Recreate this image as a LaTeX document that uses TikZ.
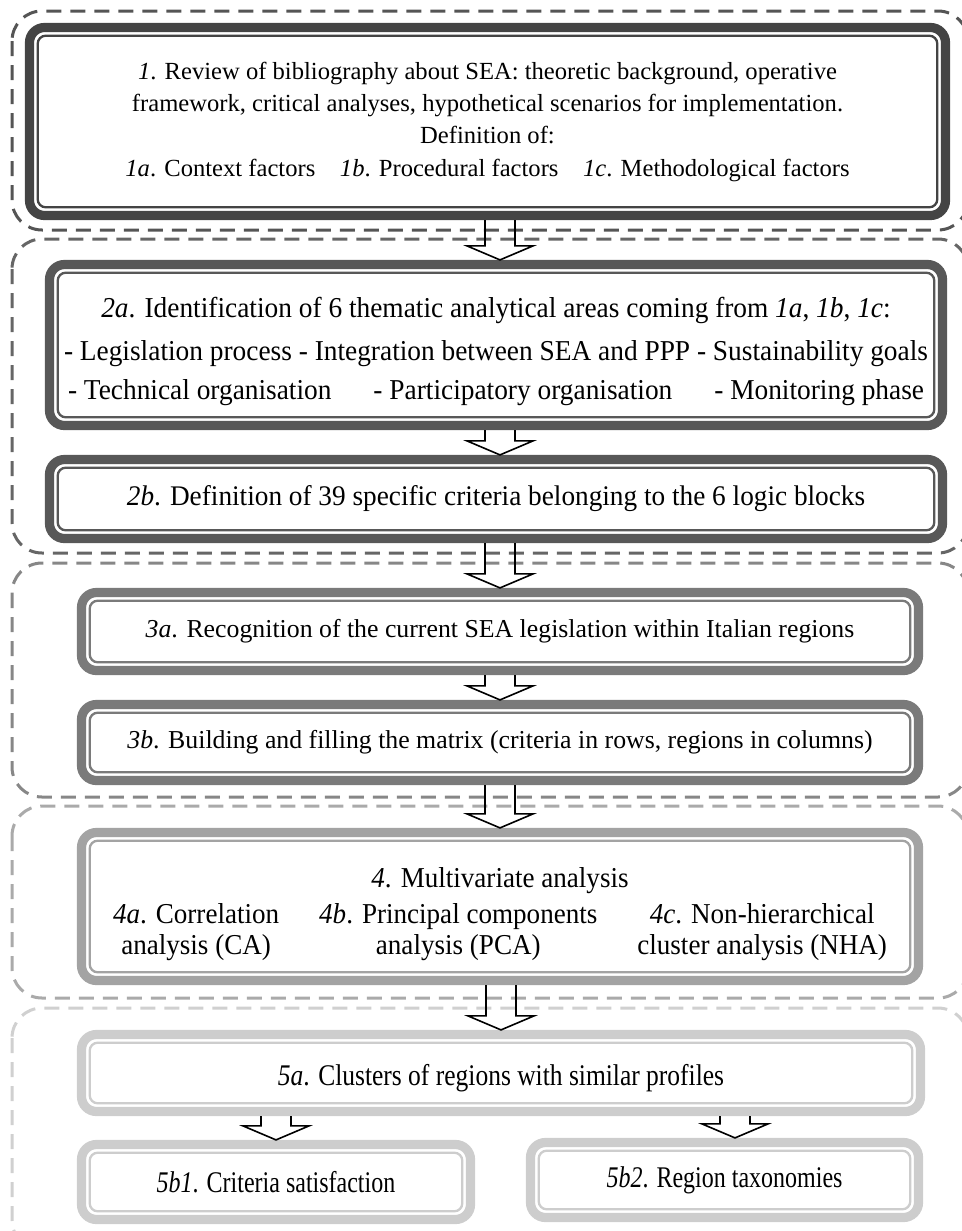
\documentclass[tikz,border=0pt]{standalone}
\usepackage{fontspec}
\setmainfont{Liberation Serif}
\usetikzlibrary{calc}
\definecolor{ink1}{HTML}{444444}
\definecolor{ink2}{HTML}{585858}
\definecolor{ink3}{HTML}{7A7A7A}
\definecolor{ink4}{HTML}{A3A3A3}
\definecolor{ink5}{HTML}{CDCDCD}
\definecolor{dash1}{HTML}{555555}
\definecolor{dash2}{HTML}{666666}
\definecolor{dash3}{HTML}{878787}
\definecolor{dash4}{HTML}{AAAAAA}
\definecolor{dash5}{HTML}{D0D0D0}

% size, baseline skip and horizontal stretch of a box text
\newcommand{\boxfont}[3]{\fontsize{#1}{#2}\selectfont\addfontfeature{FakeStretch=#3}}

% open block arrow from one stage box down to the next
\newcommand{\blockarrow}[3][0pt]{%
  \draw[barrow] let \p1=([xshift=#1]#2.south), \p2=([xshift=#1]#3.north) in
    (\x2-7.5pt,\y1) -- (\x2-7.5pt,\y2+7pt) -- (\x2-16.5pt,\y2+7pt) -- (\x2,\y2)
    -- (\x2+16.5pt,\y2+7pt) -- (\x2+7.5pt,\y2+7pt) -- (\x2+7.5pt,\y1);}

\begin{document}
\begin{tikzpicture}[
  x=0.5pt, y=-0.5pt,
  stage/.style={draw=#1, line width=4.6pt, rounded corners=7.5pt,
                align=center, inner sep=0pt,
                path picture={\draw[#1, line width=1.15pt, rounded corners=4pt]
                  ([shift={(4.1pt,4.1pt)}]path picture bounding box.south west) rectangle
                  ([shift={(-4.1pt,-4.1pt)}]path picture bounding box.north east);}},
  frame/.style={draw=#1, line width=1.5pt, dash pattern=on 7.5pt off 4.5pt,
                rounded corners=15pt},
  barrow/.style={draw=black, line width=0.8pt},
]
\clip (0,0) rectangle (962,1231);

% ---- dashed phase frames ----
\draw[frame=dash1] (12,11) rectangle (968,230);
\draw[frame=dash2] (12,239) rectangle (968,553);
\draw[frame=dash3] (12,563) rectangle (968,797);
\draw[frame=dash4] (12,806) rectangle (968,998);
\draw[frame=dash5] (12,1008) rectangle (968,1250);

% ---- phase 1 ----
\node[stage=ink1, minimum width=458pt, minimum height=94pt,
      font=\boxfont{12.3pt}{16pt}{1}] (b1) at (487.5,121.5)
  {\textit{1}. Review of bibliography about SEA: theoretic background, operative\\
   framework, critical analyses, hypothetical scenarios for implementation.\\
   Definition of:\\[0.5pt]
   \textit{1a}. Context factors\quad \textit{1b}. Procedural factors\quad
   \textit{1c}. Methodological factors};

% ---- phase 2 ----
\node[stage=ink2, minimum width=446.5pt, minimum height=80.5pt,
      font=\boxfont{14.4pt}{17.2pt}{0.95}] (b2a) at (496,345)
  {\rule{0pt}{16.3pt}\textit{2a}. Identification of 6 thematic analytical areas coming from
   \textit{1a}, \textit{1b}, \textit{1c}:\\[4.3pt]
   - Legislation process - Integration between SEA and PPP - Sustainability goals\\[2.3pt]
   \makebox[428pt]{- Technical organisation\hfill - Participatory organisation\hfill
   - Monitoring phase}};

\node[stage=ink2, minimum width=446.5pt, minimum height=39.5pt,
      font=\boxfont{14.2pt}{17pt}{0.96}] (b2b) at (496,499)
  {\textit{2b}. Definition of 39 specific criteria belonging to the 6 logic blocks};

% ---- phase 3 ----
\node[stage=ink3, minimum width=418.5pt, minimum height=39pt,
      font=\boxfont{12.9pt}{15.5pt}{1}] (b3a) at (500,631.5)
  {\textit{3a}. Recognition of the current SEA legislation within Italian regions};

\node[stage=ink3, minimum width=418.5pt, minimum height=38pt,
      font=\boxfont{12.9pt}{15.5pt}{1}] (b3b) at (500,742.5)
  {\textit{3b}. Building and filling the matrix (criteria in rows, regions in columns)};

% ---- phase 4 ----
\node[stage=ink4, minimum width=418.5pt, minimum height=74pt,
      font=\boxfont{14.4pt}{15.3pt}{0.94}] (b4) at (500,906.5)
  {\rule{0pt}{19pt}\textit{4}. Multivariate analysis\\[2.5pt]
   \setlength{\tabcolsep}{10pt}%
   \begin{tabular}[t]{@{}ccc@{}}
     \textit{4a}. Correlation & \textit{4b}. Principal components & \textit{4c}. Non-hierarchical\\
     analysis (CA) & analysis (PCA) & cluster analysis (NHA)
   \end{tabular}};

% ---- phase 5 ----
\node[stage=ink5, minimum width=419.5pt, minimum height=38.5pt,
      font=\boxfont{15pt}{17pt}{0.85}] (b5a) at (501,1073)
  {\rule{0pt}{16pt}\textit{5a}. Clusters of regions with similar profiles};

\node[stage=ink5, minimum width=194.5pt, minimum height=37.5pt,
      font=\boxfont{15pt}{17pt}{0.8}] (b5b1) at (276,1182)
  {\textit{5b1}. Criteria satisfaction};

\node[stage=ink5, minimum width=194pt, minimum height=37.5pt,
      font=\boxfont{15pt}{17pt}{0.8}] (b5b2) at (724.5,1180)
  {\textit{5b2}. Region taxonomies};

% ---- arrows ----
\blockarrow[2pt]{b1}{b2a}
\blockarrow[2pt]{b2a}{b2b}
\blockarrow{b2b}{b3a}
\blockarrow{b3a}{b3b}
\blockarrow{b3b}{b4}
\blockarrow{b4}{b5a}
\blockarrow{b5a}{b5b1}
\blockarrow[5.25pt]{b5a}{b5b2}

\end{tikzpicture}
\end{document}
